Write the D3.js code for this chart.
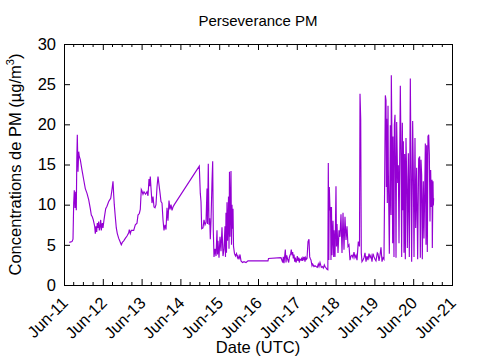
<!DOCTYPE html>
<html>
<head>
<meta charset="utf-8">
<script src="https://cdn.jsdelivr.net/npm/d3@7"></script>
<style>
  body { margin: 0; background: #fff; }
  text { font-family: "Liberation Sans", Arial, sans-serif; fill: #000; }
</style>
</head>
<body>
<svg id="chart"></svg>
<script>
// chart size
const width = 480
const height = 360
const margin = {left: 64, top: 44, right: 28, bottom: 75}

// [days since Jun-11 00:00 UTC, PM in ug/m3]
const jun11to14 = [
  [0.137,5.3],[0.206,5.4],[0.232,5.7],[0.250,10.2],[0.265,11.8],[0.284,9.6],[0.302,11.6],[0.317,9.3],
  [0.330,15.6],[0.343,18.7],[0.361,14.1],[0.379,16.6],[0.394,16.0],[0.420,15.6],[0.464,14.3],[0.508,13.1],
  [0.549,12.0],[0.593,11.4],[0.637,10.6],[0.678,9.5],[0.704,8.7],[0.729,8.5],[0.755,8.1],[0.773,7.7],
  [0.791,7.3],[0.807,6.4],[0.825,7.3],[0.843,6.6],[0.858,7.7],[0.876,7.1],[0.894,7.9],[0.910,6.8],
  [0.928,7.3],[0.946,8.1],[0.961,6.8],[0.987,7.7],[1.005,7.1],[1.031,8.1],[1.049,8.7],[1.075,9.5],
  [1.108,9.8],[1.152,10.4],[1.178,10.6],[1.204,10.8],[1.229,11.6],[1.245,12.2],[1.263,12.9],[1.281,11.2],
  [1.296,10.0],[1.322,8.5],[1.348,7.1],[1.374,6.4],[1.410,5.8],[1.436,5.5],[1.461,5.2],[1.477,5.0],
  [1.503,5.3],[1.539,5.5],[1.580,5.8],[1.624,6.1],[1.668,6.5],[1.683,6.9],[1.709,6.4],[1.735,6.8],
  [1.771,6.8],[1.796,6.8],[1.838,7.5],[1.881,7.7],[1.907,8.7],[1.941,8.9],[1.966,9.4],[1.992,11.9],
  [2.003,11.8],[2.036,11.3],[2.062,11.6],[2.101,11.3],[2.139,11.6],[2.165,11.1],[2.191,13.2],[2.209,12.3],
  [2.224,13.5],[2.242,12.1],[2.268,10.2],[2.294,11.0],[2.320,9.7],[2.345,9.6],[2.371,10.0],[2.397,12.2],
  [2.423,13.5],[2.448,12.5],[2.474,11.5],[2.500,10.4],[2.526,10.2],[2.552,8.1],[2.577,6.8],[2.603,7.5],
  [2.629,6.9],[2.655,9.6],[2.680,8.0],[2.706,10.5],[2.732,9.4],[2.758,10.0],[2.784,9.3],[2.809,9.7],
  [2.843,10.0]
]

const jun14to17 = [
  [3.487,14.8],[3.513,11.4],[3.531,10.4],[3.549,7.0],[3.582,7.1],[3.608,8.1],[3.634,7.5],[3.660,7.8],
  [3.686,12.0],[3.698,7.6],[3.719,15.1],[3.737,7.5],[3.755,8.3],[3.771,5.7],[3.789,8.0],[3.814,12.8],
  [3.832,15.4],[3.848,6.8],[3.866,3.5],[3.892,4.5],[3.918,3.6],[3.943,6.8],[3.956,3.8],[3.969,5.5],
  [3.995,3.4],[4.021,6.0],[4.046,4.2],[4.072,7.2],[4.098,3.6],[4.124,4.5],[4.149,7.3],[4.162,3.5],
  [4.175,9.0],[4.188,4.0],[4.201,10.3],[4.214,5.5],[4.227,7.6],[4.240,11.0],[4.253,4.5],[4.265,14.1],
  [4.278,6.0],[4.291,9.5],[4.304,14.2],[4.317,5.0],[4.330,10.0],[4.343,7.0],[4.356,9.5],[4.369,4.8],
  [4.394,3.9],[4.420,3.6],[4.446,3.9],[4.472,3.4],[4.485,3.6],[4.510,3.2],[4.536,3.8],[4.562,3.0],
  [4.601,2.8],[4.639,2.9],[4.691,2.8],[4.742,3.0],[5.258,3.0],[5.271,3.3],[5.593,3.4],[5.637,2.8],
  [5.652,3.5],[5.670,2.7],[5.704,4.4],[5.722,2.8],[5.740,3.7],[5.765,3.2],[5.791,2.8],[5.807,3.4],
  [5.825,3.7],[5.843,3.9],[5.858,4.4],[5.876,3.7],[5.894,4.1],[5.910,3.3],[5.928,3.8],[5.946,2.9],
  [5.961,3.4],[5.979,2.8],[5.997,3.1],[6.013,3.6],[6.031,3.0],[6.049,3.4],[6.064,2.8],[6.082,3.2],
  [6.108,3.1],[6.126,3.4],[6.142,3.0],[6.160,3.4],[6.178,3.2],[6.193,3.5],[6.211,2.9],[6.229,3.4],
  [6.245,3.2],[6.263,3.3],[6.289,5.4],[6.314,5.7],[6.332,3.5],[6.348,3.3],[6.366,3.1],[6.392,2.4],
  [6.410,2.6],[6.443,2.3],[6.469,2.4],[6.495,2.3],[6.528,2.2],[6.554,2.6],[6.572,2.3],[6.598,2.8],
  [6.632,2.2],[6.657,2.3],[6.683,2.1],[6.709,2.5],[6.735,2.2],[6.760,2.1],[6.778,1.95],[6.800,1.9]
]

const jun17to20 = [
  [6.812,15.2],[6.825,3.1],[6.838,12.2],[6.856,9.3],[6.869,9.7],[6.881,3.1],[6.894,9.7],[6.907,3.7],
  [6.933,8.0],[6.951,3.5],[6.959,6.8],[6.985,3.5],[7.010,12.3],[7.023,4.8],[7.036,7.6],[7.062,4.0],
  [7.088,6.8],[7.113,6.0],[7.139,8.8],[7.165,4.0],[7.191,9.0],[7.216,4.4],[7.242,8.5],[7.268,5.6],
  [7.294,7.3],[7.320,4.8],[7.345,5.0],[7.371,3.1],[7.397,3.6],[7.423,3.7],[7.448,3.4],[7.474,4.1],
  [7.500,3.4],[7.526,3.7],[7.552,3.1],[7.585,5.4],[7.616,4.8],[7.629,23.8],[7.647,20.7],[7.662,4.0],
  [7.680,2.9],[7.706,3.1],[7.732,3.4],[7.758,4.0],[7.784,2.9],[7.809,3.6],[7.835,3.1],[7.861,3.9],
  [7.887,3.4],[7.912,3.7],[7.938,2.9],[7.964,3.9],[7.990,3.5],[8.015,3.2],[8.041,3.0],[8.075,4.0],
  [8.093,3.9],[8.119,3.0],[8.144,3.7],[8.170,4.7],[8.196,2.9],[8.222,3.4],[8.247,3.2]
]

const jun19to20 = [
  [8.265,13.2],[8.282,23.6],[8.299,23.0],[8.308,12.2],[8.316,20.7],[8.333,10.2],[8.351,22.3],[8.359,14.3],
  [8.385,3.9],[8.411,19.9],[8.419,11.6],[8.428,8.7],[8.436,26.1],[8.454,17.2],[8.462,11.6],[8.471,5.2],
  [8.479,18.5],[8.505,3.5],[8.514,19.9],[8.531,21.2],[8.548,11.0],[8.557,3.4],[8.574,20.3],[8.600,12.7],
  [8.617,14.9],[8.634,5.2],[8.668,24.8],[8.686,16.4],[8.703,3.5],[8.720,20.2],[8.737,9.3],[8.746,17.9],
  [8.763,4.0],[8.780,16.3],[8.789,10.0],[8.797,3.2],[8.814,18.3],[8.832,13.5],[8.849,4.6],[8.875,16.4],
  [8.900,3.5],[8.926,25.7],[8.943,14.6],[8.960,2.9],[8.986,20.4],[9.003,14.3],[9.021,3.5],[9.046,18.3],
  [9.064,7.1],[9.089,14.6],[9.115,3.2],[9.141,15.7],[9.167,16.0],[9.184,3.4],[9.201,15.6],[9.218,13.7],
  [9.235,3.2],[9.253,10.6],[9.261,12.9],[9.278,5.8],[9.295,11.0],[9.313,17.6],[9.330,5.0],[9.347,17.4],
  [9.364,4.1],[9.381,18.5],[9.399,18.7],[9.416,16.2],[9.433,7.9],[9.450,14.3],[9.467,9.7],[9.485,13.1],
  [9.493,4.6],[9.510,12.9],[9.519,9.9],[9.527,10.8]
]

const yTicks = [0, 5, 10, 15, 20, 25, 30]
const titleText = "Perseverance PM"
const xTitle = "Date (UTC)"

const start = Date.UTC(2021, 5, 11)
const end = Date.UTC(2021, 5, 21)
const dayMs = 864e5

const series = jun11to14.concat(jun14to17, jun17to20, jun19to20)
  .map(d => ({date: new Date(start + d[0] * dayMs), pm: d[1]}))

const svg = d3.select("#chart")
  .attr("width", width)
  .attr("height", height)

const x = d3.scaleUtc()
  .domain([new Date(start), new Date(end)])
  .range([margin.left, width - margin.right])

const y = d3.scaleLinear()
  .domain([0, 30])
  .range([height - margin.bottom, margin.top])

const fmt = d3.utcFormat("%b-%d")
const days = d3.utcDay.range(new Date(start), new Date(end + 1))
const quarters = d3.utcHour.every(6).range(new Date(start), new Date(end))
  .filter(d => d.getUTCHours() !== 0)

// bottom axis, ticks pointing inward
const gx = svg.append("g")
  .attr("transform", `translate(0,${height - margin.bottom})`)
  .call(d3.axisBottom(x).tickValues(days).tickSize(-6).tickFormat(""))
gx.select(".domain").remove()
gx.selectAll(".tick line").attr("stroke", "#000")

gx.selectAll(".minor")
  .data(quarters)
  .join("line")
  .attr("x1", d => x(d)).attr("x2", d => x(d))
  .attr("y1", 0).attr("y2", -3)
  .attr("stroke", "#000")

gx.selectAll(".xlabel")
  .data(days)
  .join("text")
  .attr("class", "xlabel")
  .attr("transform", d => `translate(${x(d) + 1},${15}) rotate(-45)`)
  .attr("text-anchor", "end")
  .attr("dy", "0.35em")
  .style("font-size", "16.5px")
  .text(fmt)

// top mirror ticks
const gt = svg.append("g")
  .attr("transform", `translate(0,${margin.top})`)
  .call(d3.axisTop(x).tickValues(days).tickSize(-6).tickFormat(""))
gt.select(".domain").remove()
gt.selectAll(".tick line").attr("stroke", "#000")
gt.selectAll(".minor")
  .data(quarters)
  .join("line")
  .attr("x1", d => x(d)).attr("x2", d => x(d))
  .attr("y1", 0).attr("y2", 3)
  .attr("stroke", "#000")

// left axis
const gy = svg.append("g")
  .attr("transform", `translate(${margin.left},0)`)
  .call(d3.axisLeft(y).tickValues(yTicks).tickSize(-6).tickPadding(8))
gy.select(".domain").remove()
gy.selectAll(".tick line").attr("stroke", "#000")
gy.selectAll(".tick text")
  .attr("x", -8)
  .style("font-size", "16.5px")
  .style("font-family", "'Liberation Sans', Arial, sans-serif")

// right mirror ticks
const gr = svg.append("g")
  .attr("transform", `translate(${width - margin.right},0)`)
  .call(d3.axisRight(y).tickValues(yTicks).tickSize(-6).tickFormat(""))
gr.select(".domain").remove()
gr.selectAll(".tick line").attr("stroke", "#000")

// frame
svg.append("rect")
  .attr("x", margin.left + 0.5)
  .attr("y", margin.top + 0.5)
  .attr("width", width - margin.left - margin.right)
  .attr("height", height - margin.top - margin.bottom)
  .attr("fill", "none")
  .attr("stroke", "#000")
  .attr("stroke-width", 1)

// the PM line
const line = d3.line()
  .x(d => x(d.date))
  .y(d => y(d.pm))

svg.append("path")
  .datum(series)
  .attr("d", line)
  .attr("fill", "none")
  .attr("stroke", "#9400d3")
  .attr("stroke-width", 1.15)
  .attr("stroke-linejoin", "miter")

// title and axis titles
svg.append("text")
  .attr("x", (margin.left + width - margin.right) / 2)
  .attr("y", 26)
  .attr("text-anchor", "middle")
  .style("font-size", "15px")
  .text(titleText)

svg.append("text")
  .attr("x", (margin.left + width - margin.right) / 2)
  .attr("y", 353)
  .attr("text-anchor", "middle")
  .style("font-size", "16.5px")
  .text(xTitle)

const yTitle = svg.append("text")
  .attr("transform", `translate(21,${(margin.top + height - margin.bottom) / 2}) rotate(-90)`)
  .attr("text-anchor", "middle")
  .style("font-size", "16.5px")
yTitle.append("tspan").text("Concentrations de PM (µg/m")
yTitle.append("tspan").attr("dy", -7).style("font-size", "11px").text("3")
yTitle.append("tspan").attr("dy", 7).text(")")
</script>
</body>
</html>
